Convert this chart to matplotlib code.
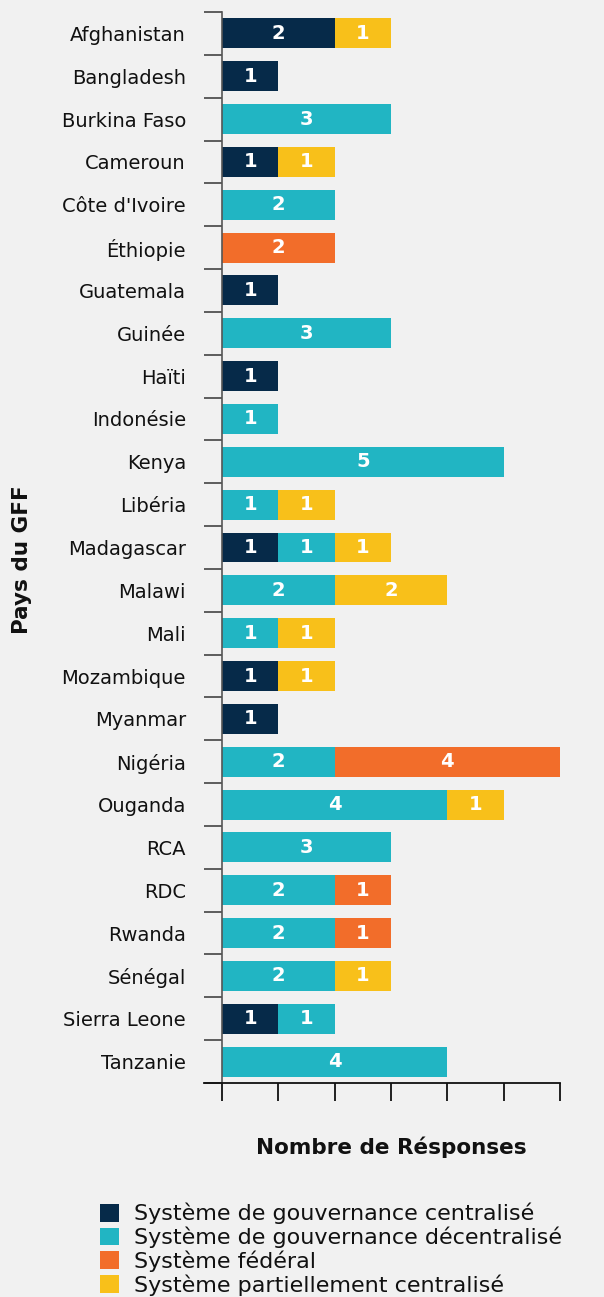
import matplotlib
matplotlib.use("Agg")
import matplotlib.pyplot as plt
from matplotlib.patches import Patch
import numpy as np

countries = ["Afghanistan", "Bangladesh", "Burkina Faso", "Cameroun", "Côte d'Ivoire",
             "Éthiopie", "Guatemala", "Guinée", "Haïti", "Indonésie", "Kenya", "Libéria",
             "Madagascar", "Malawi", "Mali", "Mozambique", "Myanmar", "Nigéria", "Ouganda",
             "RCA", "RDC", "Rwanda", "Sénégal", "Sierra Leone", "Tanzanie"]
centralise   = [2, 1, 0, 1, 0, 0, 1, 0, 1, 0, 0, 0, 1, 0, 0, 1, 1, 0, 0, 0, 0, 0, 0, 1, 0]
decentralise = [0, 0, 3, 0, 2, 0, 0, 3, 0, 1, 5, 1, 1, 2, 1, 0, 0, 2, 4, 3, 2, 2, 2, 1, 4]
federal      = [0, 0, 0, 0, 0, 2, 0, 0, 0, 0, 0, 0, 0, 0, 0, 0, 0, 4, 0, 0, 1, 1, 0, 0, 0]
partiel      = [1, 0, 0, 1, 0, 0, 0, 0, 0, 0, 0, 1, 1, 2, 1, 1, 0, 0, 1, 0, 0, 0, 1, 0, 0]
series_names = ["Système de gouvernance centralisé", "Système de gouvernance décentralisé",
                "Système fédéral", "Système partiellement centralisé"]
colors = ["#062a49", "#21b5c3", "#f26d2a", "#f8c01a"]

bg = "#f1f1f1"
plt.rcParams['font.family'] = ['DejaVu Sans']
fig = plt.figure(figsize=(6.04, 12.97), dpi=100, facecolor=bg)
ax = fig.add_axes([222/604, 1 - 1083/1297, (560-222)/604, (1083-12)/1297])
ax.set_facecolor(bg)

y = np.arange(len(countries))
left = np.zeros(len(countries))
for vals, c in zip([centralise, decentralise, federal, partiel], colors):
    vals = np.array(vals, dtype=float)
    ax.barh(y, vals, left=left, height=0.7, color=c)
    for yi, (l, v) in enumerate(zip(left, vals)):
        if v > 0:
            ax.text(l + v/2, yi, f"{int(v)}", ha='center', va='center', color='white',
                    fontsize=14, fontweight='bold')
    left += vals

ax.set_xlim(0, 6)
ax.set_ylim(len(countries) - 0.5, -0.5)
ax.set_yticks(y)
ax.set_yticklabels(countries, fontsize=14, color='#111111')
ax.tick_params(axis='y', which='major', length=0, pad=26)
ax.set_yticks(np.arange(-0.5, len(countries) + 0.5, 1), minor=True)
ax.tick_params(axis='y', which='minor', length=13, width=1.2, color='#444444')
ax.set_xticks(np.arange(0, 7, 1))
ax.set_xticklabels([])
ax.tick_params(axis='x', length=13, width=1.3, color='#111111')
for s in ['top', 'right']:
    ax.spines[s].set_visible(False)
ax.spines['left'].set_color('#555555')
ax.spines['left'].set_linewidth(1.2)
ax.spines['bottom'].set_color('#111111')
ax.spines['bottom'].set_linewidth(1.3)
ax.spines['bottom'].set_bounds(-0.32, 6)
ax.spines['bottom'].set_clip_on(False)

fig.text(391/604, 1 - 1147/1297, "Nombre de Résponses", ha='center', va='center',
         fontsize=15.5, fontweight='bold', color='#111111')
fig.text(22/604, 1 - 560/1297, "Pays du GFF", ha='center', va='center', rotation=90,
         fontsize=15.5, fontweight='bold', color='#111111')

handles = [Patch(facecolor=c, edgecolor='none') for c in colors]
leg = fig.legend(handles, series_names, loc='upper left', bbox_to_anchor=(100/604, 1 - 1203/1297),
                 frameon=False, fontsize=16, labelspacing=0.1, handlelength=0.85,
                 handleheight=0.85, handletextpad=0.7, borderpad=0, borderaxespad=0)
for t in leg.get_texts():
    t.set_color('#111111')

fig.savefig("out.png", dpi=100, facecolor=bg)
